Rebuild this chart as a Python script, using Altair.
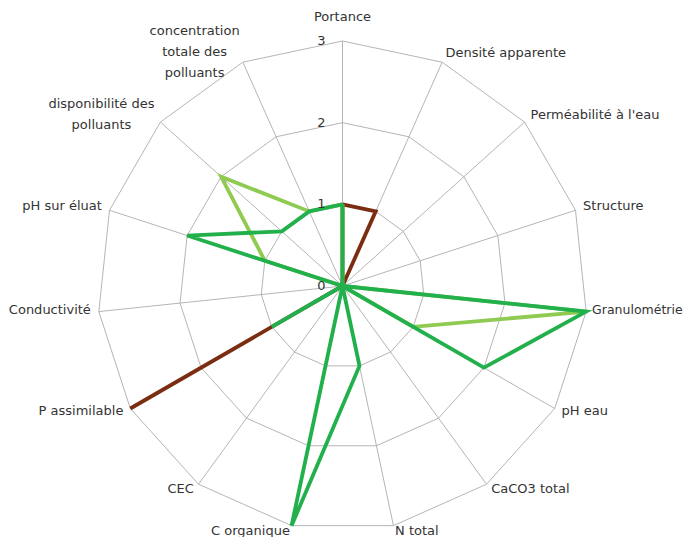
import altair as alt
import pandas as pd

# ---------------- data ----------------
axis_labels = [
    "Portance",
    "Densité apparente",
    "Perméabilité à l'eau",
    "Structure",
    "Granulométrie",
    "pH eau",
    "CaCO3 total",
    "N total",
    "C organique",
    "CEC",
    "P assimilable",
    "Conductivité",
    "pH sur éluat",
    "disponibilité des\npolluants",
    "concentration\ntotale des\npolluants",
]
series_names = ["Série 1", "Série 2", "Série 3"]
brown_values = [1, 1, 0, 0, 0, 0, 0, 0, 0, 0, 3, 0, 0, 0, 0]
light_green_values = [1, 0, 0, 0, 3, 1, 0, 0, 0, 0, 0, 0, 1, 2, 1]
green_values = [1, 0, 0, 0, 3, 2, 0, 1, 3, 0, 1, 0, 2, 1, 1]
series_colors = ["#7b2d12", "#8fcb52", "#21b04b"]
grid_levels = [1, 2, 3]
level_tick_labels = ["0", "1", "2", "3"]

# ---------------- tables ----------------
n = len(axis_labels)
rows = []
for name, vals in zip(series_names, [brown_values, light_green_values, green_values]):
    for i in range(n + 1):
        rows.append({"series": name, "i": i, "value": vals[i % n]})
series_df = pd.DataFrame(rows)

grid_rows = []
for lv in grid_levels:
    for i in range(n + 1):
        grid_rows.append({"level": lv, "i": i, "value": lv})
grid_df = pd.DataFrame(grid_rows)

spoke_df = pd.DataFrame({"i": list(range(n)), "value": [grid_levels[-1]] * n})
tick_df = pd.DataFrame({"level": list(range(len(level_tick_labels))), "label": level_tick_labels})
label_df = pd.DataFrame({"i": list(range(n)), "label": axis_labels})

# ---------------- geometry (scales) ----------------
W, H = 676, 529
U = 245 / 3.0          # pixels per unit
CX, CY = 334.5, 278.0  # centre in plot coordinates
xs = alt.Scale(domain=[-CX / U, (W - CX) / U], nice=False, zero=False)
ys = alt.Scale(domain=[-(H - CY) / U, CY / U], nice=False, zero=False)

ang = f"datum.i * 2 * PI / {n}"
LABEL_R = grid_levels[-1] + 8 / U


def polar(chart, rfield="datum.value"):
    return chart.transform_calculate(
        px=f"{rfield} * sin({ang})", py=f"{rfield} * cos({ang})"
    )


X = alt.X("px:Q", scale=xs, axis=None)
Y = alt.Y("py:Q", scale=ys, axis=None)

grid = polar(alt.Chart(grid_df)).mark_line(
    color="#b5b5b5", strokeWidth=1
).encode(x=X, y=Y, detail="level:N", order="i:Q")

spokes = polar(alt.Chart(spoke_df)).transform_calculate(zero="0").mark_rule(
    color="#b5b5b5", strokeWidth=1
).encode(
    x=alt.X("zero:Q", scale=xs, axis=None),
    y=alt.Y("zero:Q", scale=ys, axis=None),
    x2="px:Q",
    y2="py:Q",
)

color = alt.Color(
    "series:N",
    scale=alt.Scale(domain=series_names, range=series_colors),
    legend=None,
)

series_layers = []
for name in series_names:
    series_layers.append(
        polar(alt.Chart(series_df))
        .transform_filter(alt.datum.series == name)
        .mark_line(strokeWidth=3.8, strokeJoin="miter")
        .encode(x=X, y=Y, color=color, order="i:Q")
    )

ticks = alt.Chart(tick_df).transform_calculate(zero="0").mark_text(
    font="DejaVu Sans", fontSize=13, color="#333333", dx=-21, align="center", baseline="middle"
).encode(
    x=alt.X("zero:Q", scale=xs, axis=None),
    y=alt.Y("level:Q", scale=ys, axis=None),
    text="label:N",
)

label_base = polar(alt.Chart(label_df), rfield=str(LABEL_R))
text_style = dict(font="DejaVu Sans", color="#333333", lineBreak="\n", lineHeight=21)


def label_layer(cond, size=13, **kw):
    return label_base.transform_filter(cond).mark_text(fontSize=size, **text_style, **kw).encode(
        x=X, y=Y, text="label:N"
    )


labels = [
    label_layer("datum.i == 0", align="center", baseline="alphabetic", dy=-12),
    label_layer("datum.i >= 1 && datum.i <= 7 && datum.i != 4", align="left", baseline="middle", dy=-2),
    label_layer("datum.i == 4", size=12.5, align="left", baseline="middle", dx=-2, dy=-2),
    label_layer("datum.i >= 8 && datum.i <= 12", align="right", baseline="middle", dy=-2),
    label_layer("datum.i == 13", align="center", baseline="middle", dx=-53, dy=-13),
    label_layer("datum.i == 14", align="center", baseline="middle", dx=-45, dy=-24),
]

chart = alt.layer(grid, spokes, *series_layers, ticks, *labels).properties(
    width=W, height=H, padding=0, autosize=alt.AutoSizeParams(type="none")
).configure_view(stroke=None)

chart.save("out.html", embed_options={"renderer": "svg", "actions": False})
